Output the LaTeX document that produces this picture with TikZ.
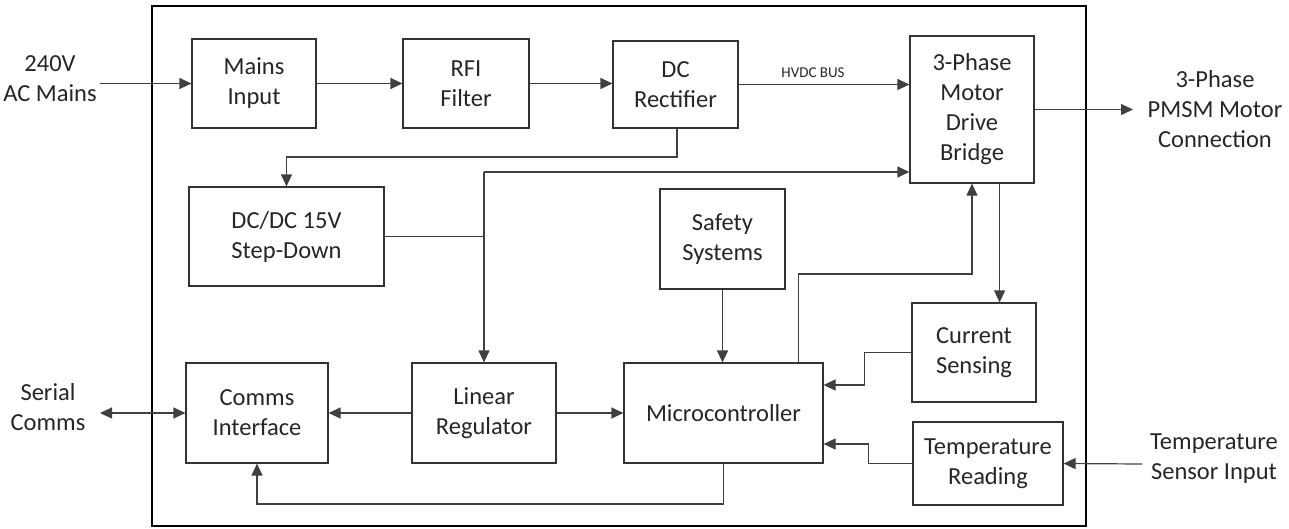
\documentclass[tikz,border=0pt]{standalone}
\usepackage{fontspec}
\setmainfont{Carlito}
\usetikzlibrary{arrows.meta,calc}
\begin{document}
\begin{tikzpicture}[x=1pt,y=-1pt,
  blk/.style={draw=black!80, line width=1.2pt, fill=white, inner sep=0pt, align=center,
    text=black!85, font=\fontsize{24.5}{30}\selectfont},
  lbl/.style={align=center, text=black!85, font=\fontsize{24.5}{30}\selectfont},
  wire/.style={draw=black!75, line width=1.2pt},
  arr/.style={wire, -{Triangle[length=12pt,width=11pt]}},
  darr/.style={wire, {Triangle[length=12pt,width=11pt]}-{Triangle[length=12pt,width=11pt]}}]
\useasboundingbox (0,0) rectangle (1289,528);
\node[draw=black, line width=2.2pt, minimum width=934pt, minimum height=520pt, inner sep=0pt] (frame) at (619,266) {};
% blocks
\node[blk, minimum width=124pt, minimum height=89pt] (mains) at (254,83.5) {Mains\\Input};
\node[blk, minimum width=126pt, minimum height=89pt] (rfi) at (466,83.5) {RFI\\Filter};
\node[blk, minimum width=125pt, minimum height=87pt] (dcr) at (675.5,84.5) {DC\\Rectifier};
\node[blk, minimum width=124pt, minimum height=147pt] (bridge) at (972,109.5) {3-Phase\\Motor\\Drive\\Bridge};
\node[blk, minimum width=195pt, minimum height=99pt] (dcdc) at (286.5,236.5) {DC/DC 15V\\Step-Down};
\node[blk, minimum width=125pt, minimum height=100pt] (safety) at (722.5,239) {Safety\\Systems};
\node[blk, minimum width=124pt, minimum height=99pt] (current) at (974,352.5) {Current\\Sensing};
\node[blk, minimum width=150pt, minimum height=83pt] (temp) at (988,463.5) {Temperature\\Reading};
\node[blk, minimum width=142pt, minimum height=100pt] (comms) at (257,413) {Comms\\Interface};
\node[blk, minimum width=144pt, minimum height=100pt] (linreg) at (484,413) {Linear\\Regulator};
\node[blk, minimum width=199pt, minimum height=100pt] (micro) at (723.5,413) {Microcontroller};
% outside labels
\node[lbl] (acin) at (50,79) {240V\\AC Mains};
\node[lbl] (motor) at (1215,109) {3-Phase\\PMSM Motor\\Connection};
\node[lbl] (serial) at (48,407) {Serial\\Comms};
\node[lbl] (tsens) at (1214,459) {Temperature\\Sensor Input};
\node[text=black!85, font=\fontsize{15}{18}\selectfont] (hvdc) at (813,73) {HVDC BUS};
% free ends and bends
\coordinate (acend) at (100,83.5);
\coordinate (motend) at (1133,109.5);
\coordinate (serend) at (100,413);
\coordinate (tsend) at (1142,464);
\coordinate (y157) at (0,157);
\coordinate (jv) at (484,172);
\coordinate (y274) at (0,274);
\coordinate (y385) at (0,385);
\coordinate (y444) at (0,444);
\coordinate (y504) at (0,504);
% connectors
\draw[arr] (acend) -- (mains.west);
\draw[arr] (mains.east) -- (rfi.west);
\draw[arr] (rfi.east) -- (rfi.east -| dcr.west);
\draw[arr] (dcr.east) -- (dcr.east -| bridge.west);
\draw[arr] (bridge.east) -- (motend);
\draw[arr] ([xshift=1.5pt]dcr.south) -- ([xshift=1.5pt]dcr.south |- y157) -| (dcdc.north);
\draw[wire] (dcdc.east) -- (dcdc.east -| jv);
\draw[arr] (jv) -- (linreg.north);
\draw[arr] (jv) -- (jv -| bridge.west);
\draw[arr] (safety.south) -- (safety.south |- micro.north);
\draw[arr] ([xshift=-25pt]micro.north east) -- ([xshift=-25pt]micro.north east |- y274) -| (bridge.south);
\draw[arr] ([xshift=-35pt]bridge.south east) -- ([xshift=-35pt]bridge.south east |- current.north);
\draw[arr] (current.west) -- ++(-47,0) |- (micro.east |- y385);
\draw[arr] (temp.west) -- ++(-44,0) |- (micro.east |- y444);
\draw[arr] (tsend) -- (temp.east);
\draw[arr] (linreg.east) -- (micro.west);
\draw[arr] (linreg.west) -- (comms.east);
\draw[darr] (serend) -- (comms.west);
\draw[arr] (micro.south) -- (micro.south |- y504) -| (comms.south);
\end{tikzpicture}
\end{document}
